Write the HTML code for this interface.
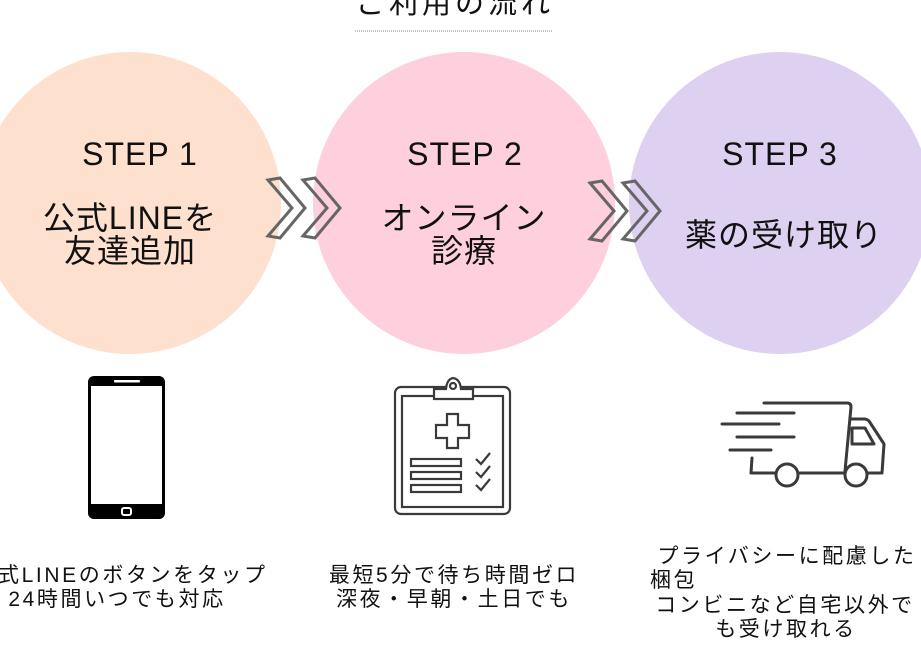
<!DOCTYPE html>
<html><head><meta charset="utf-8"><style>
html,body{margin:0;padding:0;background:#fff;width:921px;height:670px;overflow:hidden}
svg{display:block}
text{font-family:"Liberation Sans","Noto Sans CJK JP",sans-serif;fill:#111}
.b{font-size:21px;letter-spacing:2.6px}
.c{font-size:32px;letter-spacing:1px}
</style></head><body>
<svg width="921" height="670" viewBox="0 0 921 670">
<text x="455" y="13" font-size="29" text-anchor="middle" fill="#333" letter-spacing="4">ご利用の流れ</text>
<line x1="355" y1="31" x2="552" y2="31" stroke="#888" stroke-width="1" stroke-dasharray="1 1"/>
<circle cx="130" cy="203" r="151" fill="#fde0cd"/>
<circle cx="464" cy="203" r="151" fill="#fecfdc"/>
<circle cx="780" cy="203" r="151" fill="#ddd0f1"/>
<g fill="none" stroke="#666" stroke-width="3" stroke-linejoin="miter">
<path d="M268,180 L280,178 L305,208 L280,238 L268,236 L292,208 Z"/>
<path d="M303,180 L315,178 L340,208 L315,238 L303,236 L327,208 Z"/>
<path d="M590,183 L602,181 L627,211 L602,241 L590,239 L614,211 Z"/>
<path d="M623,183 L635,181 L660,211 L635,241 L623,239 L647,211 Z"/>
</g>
<text x="140" y="165" font-size="32" text-anchor="middle" letter-spacing="1">STEP 1</text>
<text x="130" y="229" class="c" text-anchor="middle">公式LINEを</text>
<text x="130" y="262" class="c" text-anchor="middle">友達追加</text>
<text x="465" y="165" font-size="32" text-anchor="middle" letter-spacing="1">STEP 2</text>
<text x="464" y="229" class="c" text-anchor="middle">オンライン</text>
<text x="464" y="262" class="c" text-anchor="middle">診療</text>
<text x="780" y="165" font-size="32" text-anchor="middle" letter-spacing="1">STEP 3</text>
<text x="784" y="246" class="c" text-anchor="middle">薬の受け取り</text>
<!-- phone -->
<rect x="88" y="376" width="77" height="143" rx="6" fill="#000"/>
<rect x="91" y="386" width="71" height="118" fill="#fff"/>
<rect x="114" y="380" width="26" height="2.5" rx="1" fill="#fff"/>
<rect x="122" y="508" width="9" height="7" rx="2" fill="none" stroke="#fff" stroke-width="2"/>
<!-- clipboard -->
<g fill="none" stroke="#3a3a3a" stroke-width="2.2">
<rect x="395" y="387" width="115" height="127" rx="6"/>
<rect x="402" y="396" width="101" height="111"/>
<path d="M434,399 V389 H446 Q447,379 453,378 Q460,379 461,389 H473 V399 Z" fill="#fff"/>
<circle cx="453" cy="386" r="3"/>
<path d="M447,414 H458 V425 H469 V438 H458 V448 H447 V438 H436 V425 H447 Z"/>
<rect x="411" y="459" width="50" height="7"/>
<rect x="411" y="472" width="50" height="7"/>
<rect x="411" y="485" width="50" height="7"/>
<path d="M476,459 L481,464 L490,453 M476,472 L481,477 L490,466 M476,485 L481,490 L490,479"/>
</g>
<!-- truck -->
<g fill="none" stroke="#3a3a3a" stroke-width="3" stroke-linecap="round" stroke-linejoin="round">
<path d="M764,403 H847 Q851,403 851,407 L845,471"/>
<path d="M737,413 H794 M722,424 H779 M737,437 H794 M730,450 H771"/>
<path d="M752,458 L751,473 H775 M800,473 H845 M868,473 H882 L884,444 L869,421 Q867,419 864,419 H851"/>
<path d="M852,428 H865 L874,444 H852 Z"/>
<circle cx="787" cy="475" r="11"/>
<circle cx="856" cy="475" r="11"/>
</g>
<text x="121" y="582" class="b" text-anchor="middle">公式LINEのボタンをタップ</text>
<text x="117" y="606" class="b" text-anchor="middle">24時間いつでも対応</text>
<text x="454" y="582" class="b" text-anchor="middle">最短5分で待ち時間ゼロ</text>
<text x="454" y="606" class="b" text-anchor="middle">深夜・早朝・土日でも</text>
<text x="787" y="563" class="b" text-anchor="middle">プライバシーに配慮した</text>
<text x="650" y="587" class="b">梱包</text>
<text x="785" y="612" class="b" text-anchor="middle">コンビニなど自宅以外で</text>
<text x="786" y="636" class="b" text-anchor="middle">も受け取れる</text>
</svg>
</body></html>
